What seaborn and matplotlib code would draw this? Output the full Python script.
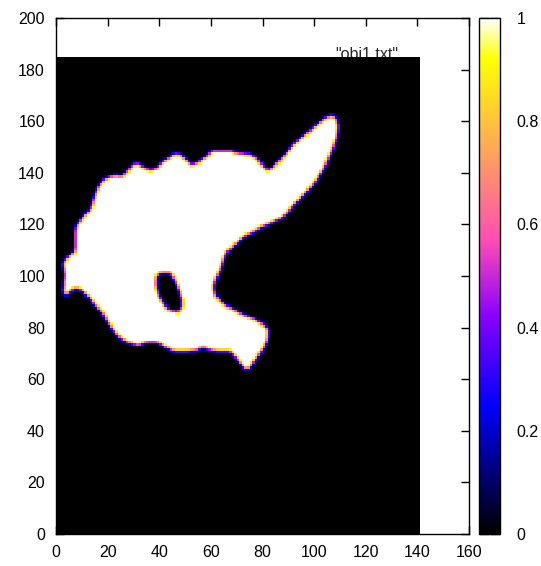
import numpy as np
import pandas as pd
import matplotlib
matplotlib.use("Agg")
import matplotlib.pyplot as plt
from matplotlib.path import Path
import seaborn as sns

# ---- data ----
# outline of the object (data coordinates)
outer_x = [2.8, 4.1, 7.3, 7.7, 10.6, 13.2, 14.5, 16.4, 19.0, 23.5, 25.5, 27.4, 30.0, 31.3,
           33.2, 36.5, 39.0, 41.6, 43.5, 46.1, 48.7, 50.7, 52.6, 54.5, 57.1, 59.1, 60.3,
           68.0, 69.4, 75.2, 77.8, 79.7, 81.6, 83.6, 86.2, 88.8, 90.7, 93.9, 97.8, 101.0,
           104.2, 106.8, 108.6, 109.4, 108.8, 107.5, 106.1, 104.2, 101.0, 97.2, 93.3, 89.4,
           86.9, 82.9, 79.7, 76.5, 73.9, 71.3, 68.7, 66.1, 64.8, 63.6, 61.7, 61.0, 61.7,
           63.6, 65.5, 69.4, 72.6, 76.5, 79.7, 82.3, 82.3, 81.0, 79.0, 77.1, 75.2, 73.9,
           72.0, 70.1, 67.4, 62.9, 58.4, 56.5, 54.5, 50.0, 46.1, 42.3, 39.0, 35.1, 31.9,
           27.4, 24.1, 22.2, 20.3, 18.3, 15.7, 13.2, 9.9, 7.3, 5.4, 4.1, 2.8, 3.5]
outer_y = [104.9, 106.9, 109.4, 119.1, 123.0, 125.6, 129.5, 134.6, 137.9, 139.1, 138.5,
           140.4, 143.0, 143.7, 142.4, 141.1, 141.7, 144.3, 145.6, 147.5, 146.9, 144.9,
           143.0, 143.7, 145.6, 146.9, 148.6, 148.6, 147.8, 147.1, 145.6, 143.0, 141.1,
           141.7, 144.3, 146.9, 149.5, 152.7, 155.9, 158.5, 161.1, 162.4, 161.1, 157.9,
           154.0, 150.1, 146.9, 142.4, 137.2, 132.7, 128.8, 124.3, 122.3, 120.4, 119.1,
           117.2, 115.9, 113.9, 111.4, 109.4, 106.2, 102.3, 98.4, 95.8, 92.6, 90.7, 88.7,
           86.8, 84.9, 83.6, 81.6, 79.1, 76.5, 73.2, 70.0, 67.4, 64.8, 63.5, 65.5, 68.1,
           70.7, 70.7, 71.9, 72.6, 71.3, 70.7, 70.7, 72.6, 74.5, 74.5, 73.2, 74.5, 76.5,
           79.1, 81.6, 85.5, 88.1, 91.3, 94.6, 95.2, 93.9, 92.6, 93.3, 100.4]
# hole inside the object
hole_x = [40.3, 44.2, 46.1, 47.4, 48.7, 48.7, 47.4, 43.5, 41.6, 39.7, 38.8, 39.0]
hole_y = [101.0, 101.3, 98.4, 95.2, 91.3, 87.5, 86.2, 86.8, 89.4, 92.6, 96.5, 99.7]

n_cols = 141   # image columns (x)
n_rows = 185   # image rows (y)
key_title = '"obj1.txt"'
x_ticks = [0, 20, 40, 60, 80, 100, 120, 140, 160]
y_ticks = [0, 20, 40, 60, 80, 100, 120, 140, 160, 180, 200]
cb_ticks = [0, 0.2, 0.4, 0.6, 0.8, 1]
cb_labels = ["0", "0.2", "0.4", "0.6", "0.8", "1"]

# ---- rasterize outline into image cells (coverage fraction) ----
outer_path = Path(np.column_stack([outer_x, outer_y]))
hole_path = Path(np.column_stack([hole_x, hole_y]))
s = 6
off = (np.arange(s) + 0.5) / s * 2.0 - 0.5   # footprint of two cells -> soft edge
shape4 = (n_rows, n_cols, s, s)
rows = np.arange(n_rows)[:, None, None, None]
cols = np.arange(n_cols)[None, :, None, None]
sx = np.broadcast_to(cols + off[None, None, :, None], shape4).ravel()
sy = np.broadcast_to(rows + off[None, None, None, :], shape4).ravel()
pts = np.column_stack([sx, sy])
inside = outer_path.contains_points(pts) & ~hole_path.contains_points(pts)
grid = inside.reshape(n_rows, n_cols, s * s).mean(axis=2)
df = pd.DataFrame(grid)

# ---- figure ----
sns.set_style("white")
plt.rcParams["font.family"] = ["Liberation Sans", "DejaVu Sans"]
fs = 11.5

fig = plt.figure(figsize=(5.41, 5.66), dpi=100)
W, H = 541, 566
ax = fig.add_axes([56 / W, (H - 534) / H, (469 - 56) / W, (534 - 18) / H])
cax = fig.add_axes([479 / W, (H - 534) / H, (500 - 479) / W, (534 - 18) / H])

sns.heatmap(df, ax=ax, cbar_ax=cax, cmap="gnuplot2", vmin=0, vmax=1,
            xticklabels=False, yticklabels=False, rasterized=True)

ax.set_xlim(0, 160)
ax.set_ylim(0, 200)
ax.set_xticks(x_ticks)
ax.set_xticklabels([str(v) for v in x_ticks])
ax.set_yticks(y_ticks)
ax.set_yticklabels([str(v) for v in y_ticks])
ax.tick_params(direction="in", length=6, width=1, top=True, right=True,
               bottom=True, left=True, labelsize=fs, pad=8, colors="black")
for sp in ax.spines.values():
    sp.set_visible(True)
    sp.set_color("black")
    sp.set_linewidth(1)

ax.text(120.5, 184.3, key_title, ha="center", va="baseline", fontsize=fs,
        zorder=0.5)

cb = ax.collections[0].colorbar
cb.outline.set_linewidth(1)
cb.outline.set_edgecolor("black")
cax.set_yticks(cb_ticks)
cax.set_yticklabels(cb_labels)
cax.tick_params(direction="in", length=7, width=1, left=True, right=True,
                labelsize=fs, pad=12, colors="black")

fig.savefig("out.png", dpi=100)
